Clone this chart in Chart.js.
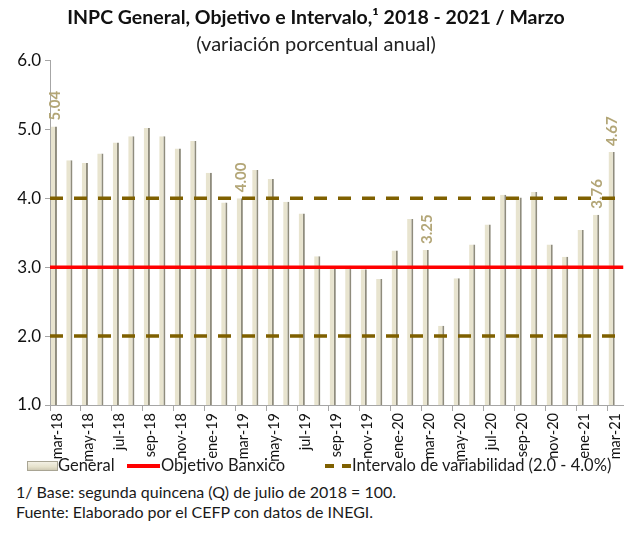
<!DOCTYPE html>
<html lang="es">
<head>
  <meta charset="UTF-8">
  <title>INPC General, Objetivo e Intervalo</title>
  <style>
    body {
      margin: 0;
      background: #fff;
      font-family: Lato, sans-serif;
      color: #1a1a1a;
    }
    .wrap { width: 635px; height: 547px; position: relative; }
    canvas { display: block; position: absolute; top: 0; left: 0; }
    .legend {
      position: absolute; top: 455px; left: 0; width: 635px; height: 20px;
      font-size: 16.5px; white-space: nowrap;
    }
    .legend > * { position: absolute; }
    .legend .box {
      left: 27px; top: 6px; width: 29px; height: 8px;
      background: linear-gradient(#f3f0e4, #e6e2cc 60%, #cfcab4);
      border: 1px solid #a9a594;
    }
    .legend .red { left: 127px; top: 9px; width: 33px; height: 3.5px; background: #ff0000; }
    .legend .dash {
      left: 325px; top: 9px; width: 26px; height: 3.5px;
      background: linear-gradient(to right, #7f6000 0 9px, transparent 9px 17px, #7f6000 17px 26px);
    }
    .legend .t1 { left: 58px; top: 0; }
    .legend .t2 { left: 161px; top: 0; }
    .legend .t3 { left: 352px; top: 0; }
    .notes {
      position: absolute; top: 482px; left: 16px;
      font-size: 16px; line-height: 20px;
    }
  </style>
</head>
<body>
<div class="wrap">
  <canvas id="chart" width="635" height="462"></canvas>
  <div class="legend">
    <i class="box"></i><span class="t1">General</span>
    <i class="red"></i><span class="t2">Objetivo Banxico</span>
    <i class="dash"></i><span class="t3">Intervalo de variabilidad (2.0 - 4.0%)</span>
  </div>
  <div class="notes">
    1/ Base: segunda quincena (Q) de julio de 2018 = 100.<br>
    Fuente: Elaborado por el CEFP con datos de INEGI.
  </div>
</div>

<script src="https://cdn.jsdelivr.net/npm/chart.js@4"></script>
<script>
  // months mar-18 .. mar-21
  const months = [
    'mar-18','abr-18','may-18','jun-18','jul-18','ago-18','sep-18','oct-18','nov-18','dic-18',
    'ene-19','feb-19','mar-19','abr-19','may-19','jun-19','jul-19','ago-19','sep-19','oct-19',
    'nov-19','dic-19','ene-20','feb-20','mar-20','abr-20','may-20','jun-20','jul-20','ago-20',
    'sep-20','oct-20','nov-20','dic-20','ene-21','feb-21','mar-21'
  ];
  const general = [
    5.04, 4.55, 4.51, 4.65, 4.81, 4.90, 5.02, 4.90, 4.72, 4.83,
    4.37, 3.94, 4.00, 4.41, 4.28, 3.95, 3.78, 3.16, 3.00, 3.02,
    2.97, 2.83, 3.24, 3.70, 3.25, 2.15, 2.84, 3.33, 3.62, 4.05,
    4.01, 4.09, 3.33, 3.15, 3.54, 3.76, 4.67
  ];
  const objetivo = 3.0;
  const intervaloBajo = 2.0;
  const intervaloAlto = 4.0;
  // bars that carry a value label
  const labeled = ['mar-18', 'mar-19', 'mar-20', 'feb-21', 'mar-21'];

  const fontFam = 'Lato, sans-serif';

  const valueLabels = {
    id: 'valueLabels',
    afterDatasetsDraw(chart) {
      const meta = chart.getDatasetMeta(0);
      const c = chart.ctx;
      c.save();
      c.fillStyle = '#b3a677';
      c.font = 'bold 15px ' + fontFam;
      c.textAlign = 'left';
      c.textBaseline = 'middle';
      labeled.forEach(m => {
        const i = months.indexOf(m);
        const bar = meta.data[i];
        c.save();
        c.translate(bar.x + 1, bar.y - 6);
        c.rotate(-Math.PI / 2);
        c.fillText(general[i].toFixed(2), 0, 0);
        c.restore();
      });
      c.restore();
    }
  };

  new Chart(document.getElementById('chart'), {
    data: {
      labels: months,
      datasets: [
        {
          type: 'bar', label: 'General', data: general,
          backgroundColor: '#e8e4cf',
          borderColor: '#8f8c7d',
          borderWidth: { top: 0, left: 0, right: 2, bottom: 0 },
          barPercentage: 0.8, categoryPercentage: 1.0, order: 3
        },
        {
          type: 'line', label: 'Objetivo Banxico', xAxisID: 'x2',
          data: months.map(() => objetivo),
          borderColor: '#ff0000', borderWidth: 3.5, pointRadius: 0, order: 1
        },
        {
          type: 'line', label: 'Intervalo de variabilidad (2.0 - 4.0%)', xAxisID: 'x2',
          data: months.map(() => intervaloAlto),
          borderColor: '#7f6000', borderWidth: 3.5, borderDash: [13, 11], pointRadius: 0, order: 2
        },
        {
          type: 'line', label: 'Intervalo bajo', xAxisID: 'x2',
          data: months.map(() => intervaloBajo),
          borderColor: '#7f6000', borderWidth: 3.5, borderDash: [13, 11], pointRadius: 0, order: 2
        }
      ]
    },
    options: {
      responsive: false,
      animation: false,
      layout: { padding: { left: 4, right: 7, top: 0, bottom: 0 } },
      plugins: {
        legend: { display: false },
        tooltip: { enabled: false },
        title: {
          display: true,
          text: 'INPC General, Objetivo e Intervalo,\u00B9 2018 - 2021 / Marzo',
          color: '#111',
          font: { family: fontFam, size: 19.5, weight: 'bold' },
          padding: { top: 6, bottom: 3 }
        },
        subtitle: {
          display: true,
          text: '(variación porcentual anual)',
          color: '#222',
          font: { family: fontFam, size: 20 },
          padding: { bottom: 4 }
        }
      },
      scales: {
        x: {
          offset: true,
          grid: {
            drawOnChartArea: false,
            tickLength: 6,
            color: c => (c.index % 2 === 0 ? '#a6a6a6' : 'rgba(0,0,0,0)')
          },
          border: { color: '#a6a6a6' },
          ticks: {
            autoSkip: false, maxRotation: 90, minRotation: 90,
            color: '#111', font: { family: fontFam, size: 14.5 }, padding: 2,
            callback: (v, i) => (i % 2 === 0 ? months[i] : '')
          },
          afterFit: s => { s.height = 57; }
        },
        x2: {
          type: 'category', labels: months, offset: false, display: false
        },
        y: {
          min: 1, max: 6,
          grid: { drawOnChartArea: false, tickLength: 5, color: '#a6a6a6' },
          border: { color: '#a6a6a6' },
          ticks: {
            stepSize: 1, color: '#111', padding: 4,
            font: { family: fontFam, size: 17 },
            callback: v => v.toFixed(1)
          },
          afterFit: s => { s.width = 46; }
        }
      }
    },
    plugins: [valueLabels]
  });
</script>
</body>
</html>
